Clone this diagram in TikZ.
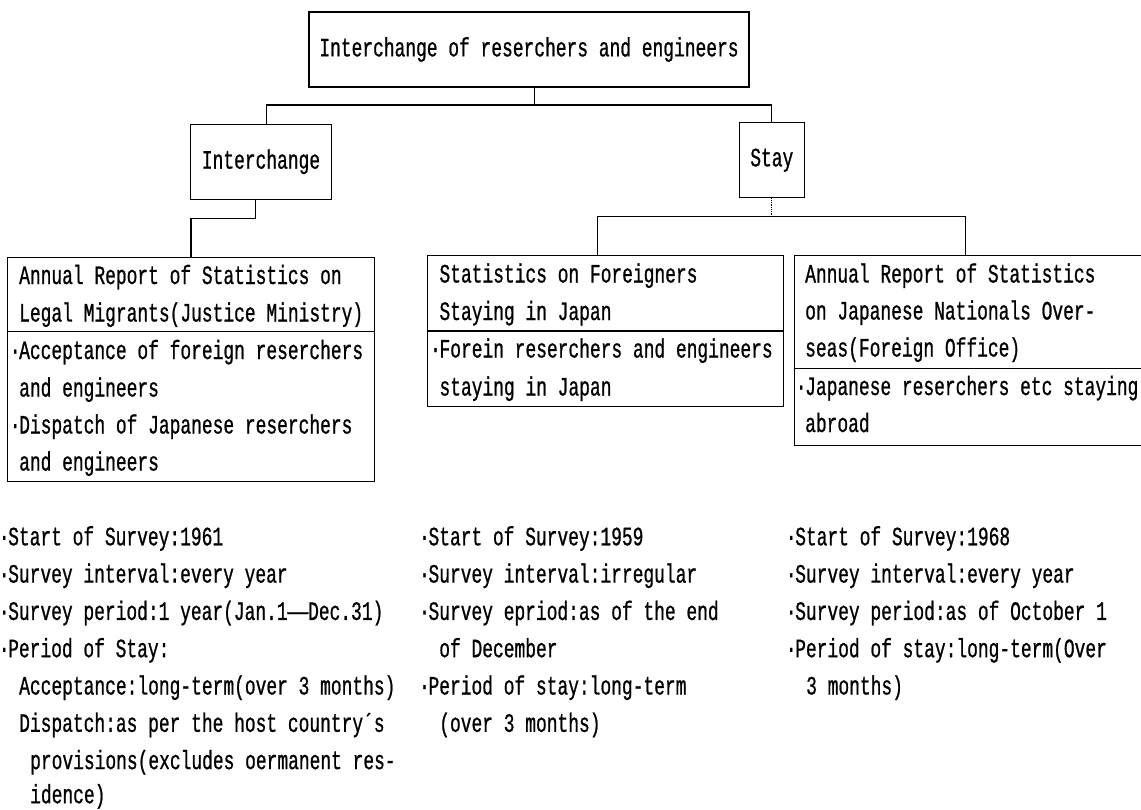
\documentclass[tikz,border=0pt]{standalone}
\usepackage{fontspec}
\newfontfamily\reffont[FakeStretch=0.676,FakeBold=0.8]{Liberation Mono}
\newcommand{\mybul}{\llap{\makebox[8pt]{·}}}
\newcommand{\mydash}{\scalebox{1.9}[1]{—}}
\begin{document}
\begin{tikzpicture}[x=1pt,y=-1pt,
  wire/.style={line width=1.1pt},
  box/.style={draw, line width=1.1pt, inner sep=0pt},
  lbl/.style={font=\reffont\fontsize{26.5}{37}\selectfont},
  txt/.style={lbl, inner sep=0pt, anchor=base west}]
\useasboundingbox (0,0) rectangle (1141,809);

% ---- upper boxes
\node[box, lbl, minimum width=440pt, minimum height=75pt] (top) at (529,49.5) {Interchange of reserchers and engineers};
\node[box, lbl, minimum width=140.6pt, minimum height=75pt] (inter) at (261,161.8) {Interchange};
\node[box, lbl, minimum width=65pt, minimum height=75pt] (stay) at (771.8,160.2) {Stay};

% ---- source boxes
\node[box, anchor=north west, minimum width=366.7pt, minimum height=224.3pt] (legal) at (7.3,256.7) {};
\node[box, anchor=north west, minimum width=356pt, minimum height=150.7pt] (fore) at (427.3,255) {};
\node[box, anchor=north west, minimum width=352pt, minimum height=190pt] (japan) at (794,255) {};

% dividers
\coordinate (dl) at (0,331.7);
\coordinate (df) at (0,331);
\coordinate (dj) at (0,368.3);
\draw[wire] (legal.west |- dl) -- (legal.east |- dl);
\draw[wire] (fore.west |- df) -- (fore.east |- df);
\draw[wire] (japan.west |- dj) -- (japan.east |- dj);

% ---- connectors
\coordinate (xt) at (534.5,0);
\coordinate (xa) at (266.7,0);
\coordinate (ya) at (0,105);
\coordinate (xb) at (255.3,0);
\coordinate (yb) at (0,218.3);
\coordinate (xc) at (191,0);
\coordinate (ys) at (0,216.7);
\coordinate (xf) at (597.7,0);
\coordinate (xr) at (965.7,0);

\draw[wire] (top.south -| xt) -- (xt |- ya);
\draw[wire] (inter.north -| xa) -- (xa |- ya) -- (stay.north |- ya) -- (stay.north);
\draw[wire] (inter.south -| xb) -- (xb |- yb) -- (xc |- yb) -- (legal.north -| xc);
\draw[line width=0.8pt, densely dotted] (stay.south) -- (stay.south |- ys);
\draw[wire] (fore.north -| xf) -- (xf |- ys) -- (xr |- ys) -- (japan.north -| xr);

% ---- text in legal box
\node[txt] (l1) at (19,284) {Annual Report of Statistics on};
\node[txt] (l2) at (19,321.5) {Legal Migrants(Justice Ministry)};
\node[txt] (l3) at (19,359) {\mybul Acceptance of foreign reserchers};
\node[txt] (l4) at (19,396.5) {and engineers};
\node[txt] (l5) at (19,433.5) {\mybul Dispatch of Japanese reserchers};
\node[txt] (l6) at (19,470.5) {and engineers};

% ---- text in foreigners box
\node[txt] (f1) at (439.3,282.5) {Statistics on Foreigners};
\node[txt] (f2) at (439.3,320) {Staying in Japan};
\node[txt] (f3) at (439.3,357.5) {\mybul Forein reserchers and engineers};
\node[txt] (f4) at (439.3,395.5) {staying in Japan};

% ---- text in japanese nationals box
\node[txt] (j1) at (805,282.5) {Annual Report of Statistics};
\node[txt] (j2) at (805,319.5) {on Japanese Nationals Over-};
\node[txt] (j3) at (805,356.5) {seas(Foreign Office)};
\node[txt] (j4) at (805,395) {\mybul Japanese reserchers etc staying};
\node[txt] (j5) at (805,432) {abroad};

% ---- bottom notes, left
\node[txt] (a1) at (8,545.3) {\mybul Start of Survey:1961};
\node[txt] (a2) at (8,582.6) {\mybul Survey interval:every year};
\node[txt] (a3) at (8,619.9) {\mybul Survey period:1 year(Jan.1\mydash Dec.31)};
\node[txt] (a4) at (8,657.2) {\mybul Period of Stay:};
\node[txt] (a5) at (19,694.5) {Acceptance:long-term(over 3 months)};
\node[txt] (a6) at (19,731.8) {Dispatch:as per the host country´s};
\node[txt] (a7) at (30,769.1) {provisions(excludes oermanent res-};
\node[txt] (a8) at (30,803.2) {idence)};

% ---- bottom notes, middle
\node[txt] (b1) at (428.3,545.3) {\mybul Start of Survey:1959};
\node[txt] (b2) at (428.3,582.6) {\mybul Survey interval:irregular};
\node[txt] (b3) at (428.3,619.9) {\mybul Survey epriod:as of the end};
\node[txt] (b4) at (439.1,657.2) {of December};
\node[txt] (b5) at (428.3,694.5) {\mybul Period of stay:long-term};
\node[txt] (b6) at (439.1,731.8) {(over 3 months)};

% ---- bottom notes, right
\node[txt] (c1) at (795,545.3) {\mybul Start of Survey:1968};
\node[txt] (c2) at (795,582.6) {\mybul Survey interval:every year};
\node[txt] (c3) at (795,619.9) {\mybul Survey period:as of October 1};
\node[txt] (c4) at (795,657.2) {\mybul Period of stay:long-term(Over};
\node[txt] (c5) at (806,694.5) {3 months)};
\end{tikzpicture}
\end{document}
